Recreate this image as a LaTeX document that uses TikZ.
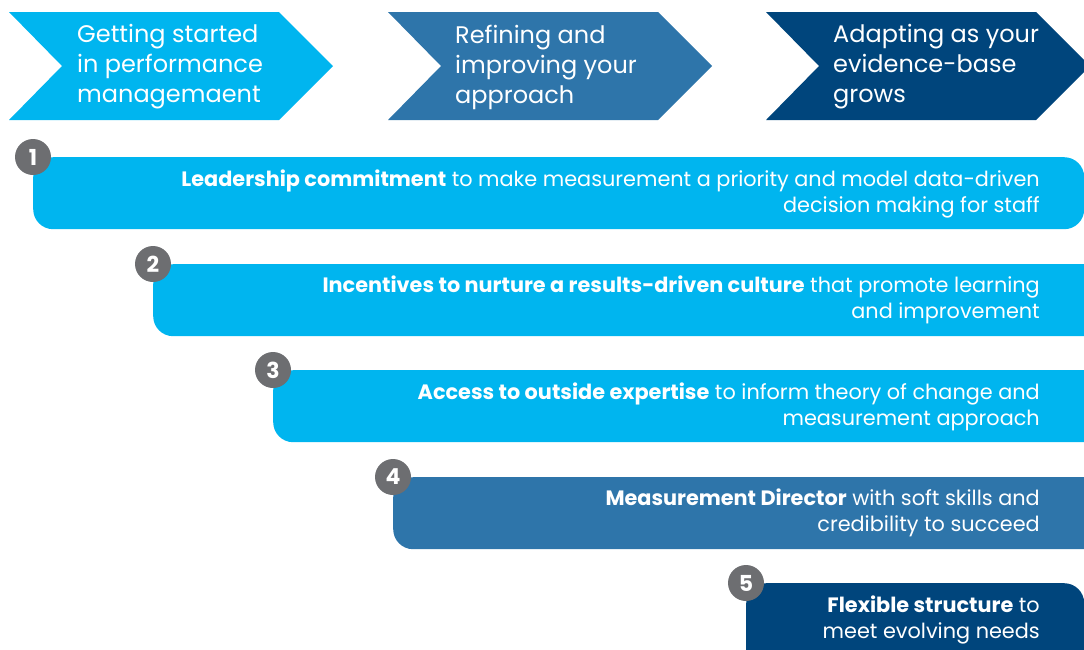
\documentclass[tikz,border=0pt]{standalone}
\usepackage{fontspec}
\setmainfont{Poppins}
\usetikzlibrary{positioning}
\definecolor{lightblue}{RGB}{0,181,239}
\definecolor{midblue}{RGB}{46,117,170}
\definecolor{darkblue}{RGB}{0,69,124}
\definecolor{numgray}{RGB}{109,110,113}
\tikzset{
	chevtext/.style={anchor=west, align=left, text=white, inner sep=0pt, font=\fontsize{24}{30}\selectfont},
	bar/.style={rectangle, rounded corners=20pt, minimum width=1051pt, minimum height=72pt, anchor=north west, inner sep=0pt},
	bartext/.style={anchor=east, align=right, text=white, inner sep=0pt, font=\fontsize{20.8}{26}\selectfont},
	num/.style={circle, fill=numgray, text=white, minimum size=36pt, inner sep=0pt, font=\bfseries\fontsize{22}{22}\selectfont}
}
\begin{document}
\begin{tikzpicture}[x=1pt, y=-1pt]
	\useasboundingbox (0, 0) rectangle (1084, 649);
	\clip (0, 0) rectangle (1084, 649);
	% stages
	\fill[lightblue] (9, 12) -- (279, 12) -- (333, 66) -- (279, 120) -- (9, 120) -- (62, 66) -- cycle;
	\fill[midblue] (388, 12) -- (658, 12) -- (712, 66) -- (658, 120) -- (388, 120) -- (441, 66) -- cycle;
	\fill[darkblue] (766, 12) -- (1036, 12) -- (1090, 66) -- (1036, 120) -- (766, 120) -- (819, 66) -- cycle;
	\node[chevtext] (s1) at (77, 67) {Getting started\\in performance\\managemaent};
	\node[chevtext] (s2) at (455, 67) {Refining and\\improving your\\approach};
	\node[chevtext] (s3) at (833, 67) {Adapting as your\\evidence-base\\grows};
	% bars
	\node[bar, fill=lightblue] (b1) at (33, 157) {};
	\node[bar, fill=lightblue] (b2) at (153, 264) {};
	\node[bar, fill=lightblue] (b3) at (273, 370) {};
	\node[bar, fill=midblue] (b4) at (393, 477) {};
	\node[bar, fill=darkblue, minimum width=338pt, minimum height=90pt] (b5) at (746, 583) {};
	\foreach \i in {1,...,5} \node[num] (n\i) at (b\i.north west) {\i};
	\node[bartext] (t1) at (1040, 194) {\textbf{Leadership commitment} to make measurement a priority and model data-driven\\decision making for staff};
	\node[bartext] (t2) at (1040, 300) {\textbf{Incentives to nurture a results-driven culture} that promote learning\\and improvement};
	\node[bartext] (t3) at (1040, 407) {\textbf{Access to outside expertise} to inform theory of change and\\measurement approach};
	\node[bartext] (t4) at (1040, 513) {\textbf{Measurement Director} with soft skills and\\credibility to succeed};
	\node[bartext] (t5) at (1040, 620) {\textbf{Flexible structure} to\\meet evolving needs};
\end{tikzpicture}
\end{document}
